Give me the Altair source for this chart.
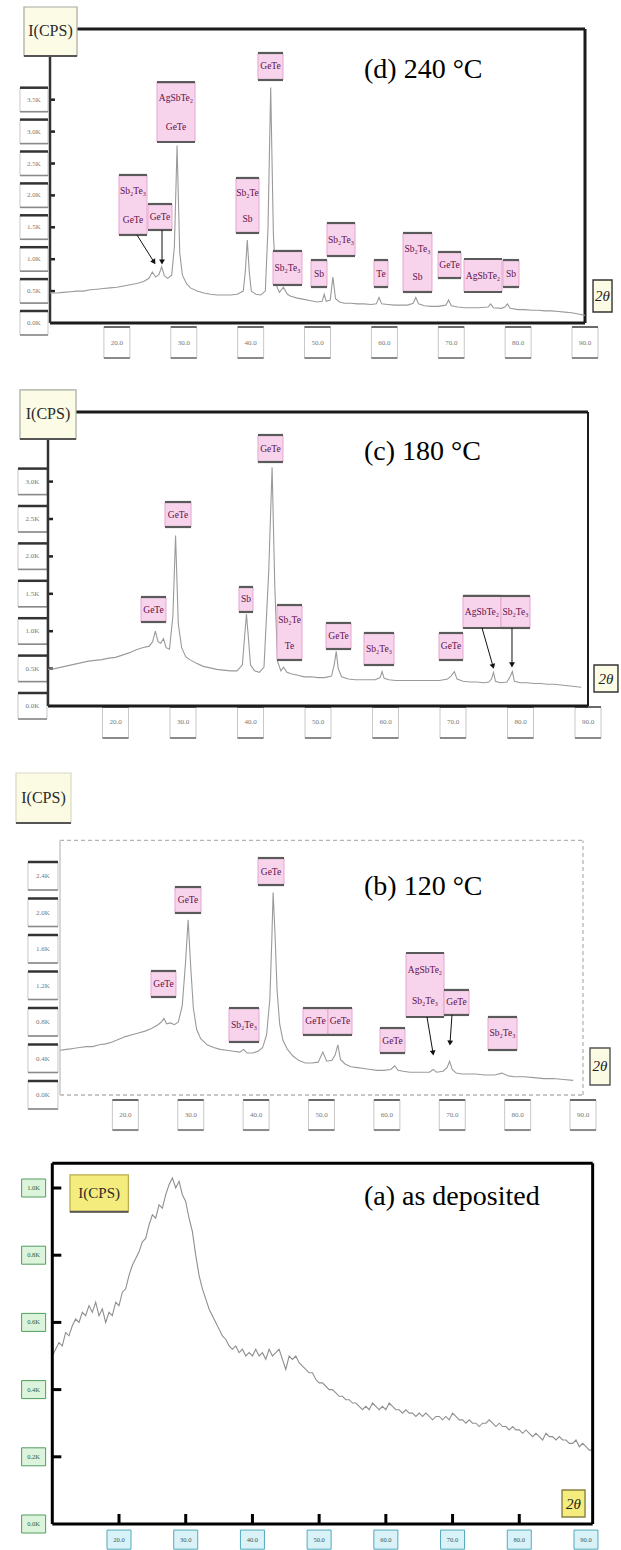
import math
import altair as alt
import pandas as pd

W = 621
SERIF = "Liberation Serif"

# ---------------- diffraction data: 2-theta (deg) and intensity (kCPS) ----------------
# (d) annealed at 240 °C
D_TT = [10, 11, 12, 13, 14, 15, 16, 17, 18, 19, 20, 21, 22, 23, 24, 24.8, 25.3, 25.8, 26.3, 26.7,
        27.1, 27.6, 28.2, 28.6, 29.0, 29.4, 29.8, 30.4, 31, 32, 33, 34, 35, 36, 37, 38, 38.9, 39.2,
        39.5, 39.8, 40.1, 40.8, 41.5, 42.2, 42.6, 43.0, 43.4, 43.8, 44.3, 44.9, 45.5, 46, 47, 48,
        49, 50, 50.7, 51.0, 51.3, 51.9, 52.3, 52.7, 53.3, 54, 55, 56, 57, 58, 58.8, 59.2, 59.6,
        60.5, 61.5, 62.5, 63.5, 64.3, 64.7, 65.1, 66, 67, 68, 69.2, 69.6, 70.0, 71, 72, 73, 74,
        75.5, 75.9, 76.3, 77.5, 78.0, 78.4, 78.8, 80, 81, 82, 83, 84, 85, 86, 87, 88, 89, 90]
D_I = [0.47, 0.47, 0.48, 0.49, 0.50, 0.50, 0.52, 0.53, 0.54, 0.55, 0.56, 0.58, 0.60, 0.62, 0.65,
       0.70, 0.80, 0.72, 0.76, 0.88, 0.74, 0.70, 0.75, 1.20, 2.78, 1.10, 0.75, 0.62, 0.55, 0.50,
       0.47, 0.45, 0.44, 0.44, 0.44, 0.45, 0.50, 0.80, 1.30, 0.80, 0.50, 0.45, 0.44, 0.50, 1.50,
       3.69, 1.40, 0.60, 0.48, 0.56, 0.45, 0.42, 0.39, 0.37, 0.35, 0.33, 0.34, 0.45, 0.34, 0.36,
       0.72, 0.38, 0.33, 0.31, 0.31, 0.30, 0.30, 0.29, 0.30, 0.40, 0.30, 0.29, 0.28, 0.28, 0.28,
       0.31, 0.40, 0.30, 0.27, 0.26, 0.26, 0.28, 0.36, 0.27, 0.25, 0.24, 0.24, 0.24, 0.25, 0.30,
       0.24, 0.23, 0.25, 0.30, 0.23, 0.21, 0.21, 0.20, 0.20, 0.19, 0.19, 0.18, 0.17, 0.16, 0.14,
       0.12]

# (c) annealed at 180 °C
C_TT = [10, 11, 12, 13, 14, 15, 16, 17, 18, 19, 20, 21, 22, 23, 24, 25, 25.5, 25.9, 26.3, 26.7,
        27.1, 27.5, 28.0, 28.5, 28.9, 29.3, 29.8, 30.4, 31, 32, 33, 34, 35, 36, 37, 38, 38.8, 39.1,
        39.4, 39.7, 40.0, 40.6, 41.3, 42.0, 42.7, 43.2, 43.6, 44.0, 44.5, 44.9, 45.4, 46, 47, 48,
        49, 50, 51, 52, 52.4, 52.7, 53.0, 53.5, 54.5, 55.5, 56.5, 57.5, 58.5, 59.2, 59.5, 59.8,
        60.5, 61.5, 62.5, 63.5, 65, 66.5, 68, 69.2, 69.7, 70.2, 70.6, 71.5, 72.5, 73.5, 74.5, 75.3,
        75.7, 76.0, 76.3, 77.0, 78.0, 78.5, 78.8, 79.1, 80, 81, 82, 83, 84, 85, 86, 87, 88, 89]
C_I = [0.49, 0.50, 0.52, 0.54, 0.56, 0.58, 0.60, 0.61, 0.62, 0.64, 0.65, 0.68, 0.71, 0.75, 0.78,
       0.80, 0.86, 1.00, 0.86, 0.84, 0.90, 0.78, 0.76, 1.20, 2.28, 1.10, 0.78, 0.66, 0.62, 0.57,
       0.53, 0.51, 0.49, 0.48, 0.47, 0.47, 0.55, 0.90, 1.23, 0.90, 0.55, 0.47, 0.45, 0.52, 1.80,
       3.19, 1.60, 0.60, 0.47, 0.52, 0.45, 0.43, 0.41, 0.39, 0.39, 0.38, 0.38, 0.40, 0.55, 0.73,
       0.50, 0.39, 0.36, 0.35, 0.35, 0.35, 0.35, 0.38, 0.46, 0.37, 0.35, 0.34, 0.34, 0.34, 0.34,
       0.34, 0.34, 0.36, 0.40, 0.46, 0.36, 0.33, 0.32, 0.32, 0.31, 0.32, 0.36, 0.45, 0.33, 0.31,
       0.32, 0.40, 0.46, 0.33, 0.31, 0.31, 0.30, 0.30, 0.29, 0.29, 0.28, 0.27, 0.26, 0.25]

# (b) annealed at 120 °C
B_TT = [10, 11, 12, 13, 14, 15, 16, 17, 18, 19, 20, 21, 22, 23, 24, 25, 25.5, 25.9, 26.3, 26.9,
        27.5, 28.1, 28.7, 29.2, 29.6, 30.0, 30.4, 30.9, 31.5, 32.5, 33.5, 34.5, 35.5, 36.5, 37.5,
        38.1, 38.6, 39.5, 40.3, 41.0, 41.6, 42.1, 42.4, 42.6, 42.9, 43.2, 43.6, 44.1, 44.8, 45.6,
        46.5, 47.5, 48.5, 49.5, 50.2, 50.8, 51.6, 52.1, 52.5, 52.9, 53.6, 54.5, 55.5, 56.5, 57.5,
        58.5, 59.5, 60.6, 61.2, 61.7, 62.5, 63.5, 64.5, 65.5, 66.5, 67.1, 67.6, 68.6, 69.2, 69.6,
        70.0, 70.6, 71.5, 72.5, 73.5, 75.0, 76.5, 77.6, 78.5, 79.5, 81.0, 82.5, 84.0, 85.5, 87.0,
        88.5]
B_I = [0.49, 0.50, 0.51, 0.52, 0.53, 0.53, 0.55, 0.56, 0.58, 0.61, 0.64, 0.66, 0.68, 0.70, 0.73,
       0.77, 0.80, 0.84, 0.78, 0.79, 0.77, 0.80, 0.98, 1.45, 1.92, 1.40, 0.95, 0.72, 0.62, 0.55,
       0.52, 0.50, 0.49, 0.48, 0.47, 0.50, 0.46, 0.46, 0.48, 0.52, 0.66, 1.05, 1.70, 2.22, 1.75,
       1.15, 0.78, 0.60, 0.50, 0.43, 0.38, 0.35, 0.35, 0.36, 0.47, 0.37, 0.38, 0.44, 0.55, 0.39,
       0.34, 0.31, 0.30, 0.29, 0.28, 0.27, 0.27, 0.28, 0.32, 0.27, 0.26, 0.25, 0.25, 0.25, 0.25,
       0.28, 0.25, 0.26, 0.30, 0.37, 0.28, 0.24, 0.23, 0.23, 0.23, 0.22, 0.22, 0.24, 0.21, 0.20,
       0.20, 0.19, 0.18, 0.18, 0.17, 0.16]

# (a) as deposited (amorphous)
A_TT = [10.0, 10.5, 11.0, 11.5, 12.0, 12.5, 13.0, 13.5, 14.0, 14.5, 15.0, 15.5, 16.0, 16.5, 17.0,
        17.5, 18.0, 18.5, 19.0, 19.5, 20.0, 20.5, 21.0, 21.5, 22.0, 22.5, 23.0, 23.5, 24.0, 24.5,
        25.0, 25.5, 26.0, 26.5, 27.0, 27.5, 28.0, 28.5, 29.0, 29.5, 30.0, 30.5, 31.0, 31.5, 32.0,
        32.5, 33.0, 33.5, 34.0, 34.5, 35.0, 35.5, 36.0, 36.5, 37.0, 37.5, 38.0, 38.5, 39.0, 39.5,
        40.0, 40.5, 41.0, 41.5, 42.0, 42.5, 43.0, 43.5, 44.0, 44.5, 45.0, 45.5, 46.0, 46.5, 47.0,
        47.5, 48.0, 48.5, 49.0, 49.5, 50.0, 50.5, 51.0, 51.5, 52.0, 52.5, 53.0, 53.5, 54.0, 54.5,
        55.0, 55.5, 56.0, 56.5, 57.0, 57.5, 58.0, 58.5, 59.0, 59.5, 60.0, 60.5, 61.0, 61.5, 62.0,
        62.5, 63.0, 63.5, 64.0, 64.5, 65.0, 65.5, 66.0, 66.5, 67.0, 67.5, 68.0, 68.5, 69.0, 69.5,
        70.0, 70.5, 71.0, 71.5, 72.0, 72.5, 73.0, 73.5, 74.0, 74.5, 75.0, 75.5, 76.0, 76.5, 77.0,
        77.5, 78.0, 78.5, 79.0, 79.5, 80.0, 80.5, 81.0, 81.5, 82.0, 82.5, 83.0, 83.5, 84.0, 84.5,
        85.0, 85.5, 86.0, 86.5, 87.0, 87.5, 88.0, 88.5, 89.0, 89.5, 90.0, 90.5, 91.0]
A_I = [0.50, 0.52, 0.54, 0.53, 0.57, 0.56, 0.59, 0.61, 0.60, 0.63, 0.62, 0.65, 0.63, 0.66, 0.62,
       0.64, 0.60, 0.63, 0.62, 0.66, 0.65, 0.69, 0.70, 0.74, 0.77, 0.79, 0.81, 0.84, 0.85, 0.89,
       0.92, 0.91, 0.95, 0.94, 0.98, 1.01, 1.03, 1.00, 1.02, 0.98, 0.96, 0.91, 0.87, 0.80, 0.74,
       0.70, 0.67, 0.64, 0.62, 0.60, 0.58, 0.56, 0.55, 0.53, 0.52, 0.53, 0.51, 0.52, 0.50, 0.51,
       0.50, 0.52, 0.50, 0.51, 0.49, 0.52, 0.50, 0.51, 0.52, 0.49, 0.46, 0.50, 0.49, 0.50, 0.48,
       0.47, 0.46, 0.45, 0.45, 0.43, 0.42, 0.42, 0.41, 0.40, 0.40, 0.39, 0.38, 0.38, 0.37, 0.37,
       0.36, 0.36, 0.35, 0.34, 0.35, 0.34, 0.36, 0.35, 0.34, 0.35, 0.34, 0.36, 0.35, 0.34, 0.34,
       0.33, 0.34, 0.33, 0.33, 0.32, 0.33, 0.32, 0.33, 0.32, 0.31, 0.32, 0.32, 0.31, 0.32, 0.31,
       0.33, 0.32, 0.31, 0.31, 0.30, 0.31, 0.30, 0.30, 0.29, 0.30, 0.30, 0.31, 0.30, 0.29, 0.30,
       0.29, 0.29, 0.28, 0.29, 0.28, 0.28, 0.27, 0.28, 0.27, 0.26, 0.27, 0.26, 0.25, 0.27, 0.26,
       0.26, 0.25, 0.26, 0.25, 0.25, 0.24, 0.24, 0.25, 0.23, 0.24, 0.23, 0.22, 0.22]

# ---------------- phase labels: (lines, 2θ from, 2θ to, bottom kCPS, top kCPS) ----------------
D_LABELS = [
    (["Sb₂Te₃", "GeTe"], 20.32, 24.50, 1.38, 2.32),
    (["GeTe"], 24.65, 28.24, 1.458, 1.865),
    (["AgSbTe₂", "GeTe"], 26.0, 31.68, 2.837, 3.777),
    (["Sb₂Te", "Sb"], 37.81, 41.25, 1.411, 2.273),
    (["GeTe"], 41.10, 44.84, 3.809, 4.232),
    (["Sb₂Te₃"], 43.35, 47.68, 0.596, 1.129),
    (["Sb"], 49.03, 51.42, 0.564, 0.987),
    (["Sb₂Te₃"], 51.42, 55.61, 1.050, 1.567),
    (["Te"], 58.45, 60.54, 0.564, 0.987),
    (["Sb₂Te₃", "Sb"], 62.79, 67.12, 0.486, 1.411),
    (["GeTe"], 68.02, 71.46, 0.705, 1.113),
    (["AgSbTe₂"], 71.91, 77.59, 0.486, 1.003),
    (["Sb"], 77.74, 80.13, 0.564, 0.987),
]
D_ARROWS = [(23.0, 1.38, 25.55, 0.956), (26.75, 1.458, 26.75, 0.956)]

C_LABELS = [
    (["GeTe"], 23.78, 27.48, 1.123, 1.457),
    (["GeTe"], 27.33, 31.19, 2.393, 2.727),
    (["Sb"], 38.30, 40.37, 1.257, 1.591),
    (["GeTe"], 41.11, 44.81, 3.262, 3.623),
    (["Sb₂Te", "Te"], 43.93, 47.63, 0.615, 1.350),
    (["GeTe"], 51.19, 54.89, 0.762, 1.110),
    (["Sb₂Te₃"], 56.81, 61.26, 0.548, 0.976),
    (["GeTe"], 67.93, 71.48, 0.615, 0.976),
    (["AgSbTe₂"], 71.48, 77.11, 1.043, 1.471),
    (["Sb₂Te₃"], 77.11, 81.41, 1.043, 1.471),
]
C_ARROWS = [(74.30, 1.043, 75.93, 0.53), (78.74, 1.043, 78.74, 0.55)]

B_LABELS = [
    (["GeTe"], 23.92, 27.74, 1.074, 1.359),
    (["GeTe"], 27.59, 31.57, 1.995, 2.279),
    (["Sb₂Te₃"], 35.85, 40.44, 0.581, 0.953),
    (["GeTe"], 40.29, 44.26, 2.301, 2.597),
    (["GeTe"], 47.17, 50.99, 0.658, 0.953),
    (["GeTe"], 50.99, 54.67, 0.658, 0.953),
    (["GeTe"], 58.95, 62.77, 0.460, 0.734),
    (["AgSbTe₂", "Sb₂Te₃"], 62.93, 68.74, 0.855, 1.556),
    (["GeTe"], 68.74, 72.56, 0.877, 1.151),
    (["Sb₂Te₃"], 75.47, 79.91, 0.493, 0.855),
]
B_ARROWS = [(66.14, 0.855, 67.06, 0.46), (69.96, 0.877, 69.66, 0.57)]

X_TICKS = [20, 30, 40, 50, 60, 70, 80, 90]
D_YTICKS = [0.0, 0.5, 1.0, 1.5, 2.0, 2.5, 3.0, 3.5]
C_YTICKS = [0.0, 0.5, 1.0, 1.5, 2.0, 2.5, 3.0]
B_YTICKS = [0.0, 0.4, 0.8, 1.2, 1.6, 2.0, 2.4]
A_YTICKS = [0.0, 0.2, 0.4, 0.6, 0.8, 1.0]

# panel geometry: height, pixel of 2θ=10, px per degree, pixel of zero, px per kCPS
GEOM = {
    "d": dict(H=365, x0=50.0, sx=6.6875, y0=323.0, sy=63.8),
    "c": dict(H=375, x0=48.0, sx=6.75, y0=341.0, sy=74.8),
    "b": dict(H=390, x0=60.0, sx=6.5375, y0=355.0, sy=91.25),
    "a": dict(H=420, x0=52.3, sx=6.671, y0=394.0, sy=336.0),
}


class Panel:
    def __init__(self, g):
        self.g = g
        xdom = [10 - g["x0"] / g["sx"], 10 + (W - g["x0"]) / g["sx"]]
        ydom = [(g["y0"] - g["H"]) / g["sy"], g["y0"] / g["sy"]]
        self.xs = alt.Scale(domain=xdom, nice=False, zero=False)
        self.ys = alt.Scale(domain=ydom, nice=False, zero=False)
        self.layers = []

    def dx(self, px):
        return px / self.g["sx"]

    def dy(self, px):
        return px / self.g["sy"]

    def _xy(self):
        return dict(x=alt.X("x:Q", scale=self.xs, axis=None),
                    y=alt.Y("y:Q", scale=self.ys, axis=None))

    def line(self, tt, cps, **mk):
        df = pd.DataFrame({"x": tt, "y": cps})
        self.layers.append(alt.Chart(df).mark_line(**mk).encode(**self._xy()))

    def rules(self, rows, **mk):
        if not rows:
            return
        df = pd.DataFrame(rows, columns=["x", "x2", "y", "y2"])
        self.layers.append(alt.Chart(df).mark_rule(**mk).encode(
            x2="x2:Q", y2="y2:Q", **self._xy()))

    def rects(self, rows, **mk):
        if not rows:
            return
        df = pd.DataFrame(rows, columns=["x", "x2", "y", "y2"])
        self.layers.append(alt.Chart(df).mark_rect(**mk).encode(
            x2="x2:Q", y2="y2:Q", **self._xy()))

    def texts(self, rows, **mk):
        if not rows:
            return
        df = pd.DataFrame(rows, columns=["x", "y", "t"])
        self.layers.append(alt.Chart(df).mark_text(**mk).encode(
            text="t:N", **self._xy()))

    def heads(self, rows, **mk):
        df = pd.DataFrame(rows, columns=["x", "y", "ang"])
        self.layers.append(alt.Chart(df).mark_point(**mk).encode(
            angle=alt.Angle("ang:Q", scale=None), **self._xy()))

    # boxed phase labels with dark bars on top and bottom
    def phase_labels(self, labels, fontsize=9.5):
        boxes, bars, txt = [], [], []
        for lines, x1, x2, yb, yt in labels:
            boxes.append((x1, x2, yb, yt))
            bars.append((x1, x2, yt, yt))
            bars.append((x1, x2, yb, yb))
            xc = (x1 + x2) / 2
            if len(lines) == 1:
                txt.append((xc, (yb + yt) / 2, lines[0]))
            else:
                txt.append((xc, yt - 0.27 * (yt - yb), lines[0]))
                txt.append((xc, yb + 0.25 * (yt - yb), lines[1]))
        self.rects(boxes, fill="#f8d4ec", stroke="#e5a6d0", strokeWidth=1)
        self.rules(bars, color="#5a5a5a", strokeWidth=2.2)
        self.texts(txt, font=SERIF, fontSize=fontsize, color="#5e1049",
                   align="center", baseline="middle")

    def arrows(self, arrows):
        self.rules([(a, c, b, d) for a, b, c, d in arrows], color="#111", strokeWidth=1)
        heads = []
        for x1, y1, x2, y2 in arrows:
            dxp = (x2 - x1) * self.g["sx"]
            dyp = -(y2 - y1) * self.g["sy"]
            ang = math.degrees(math.atan2(-dxp, dyp)) % 360
            heads.append((x2, y2, ang))
        self.heads(heads, shape="triangle-down", filled=True, color="#111", size=34, opacity=1)

    def chart(self):
        return alt.layer(*self.layers).properties(width=W, height=self.g["H"])


def tick_label_boxes(p, yticks, xticks, fmt_y, yl, xl, style):
    # y labels: column of small boxes left of the axis
    (bx1, bx2), bh = yl
    boxes = [(bx1, bx2, v - p.dy(bh / 2), v + p.dy(bh / 2)) for v in yticks]
    p.rects(boxes, fill=style["fill"], stroke=style["stroke"], strokeWidth=1)
    if style.get("bars"):
        p.rules([(a, b, d, d) for a, b, c, d in boxes], color="#333", strokeWidth=2.5)
        p.rules([(a, b, c, c) for a, b, c, d in boxes], color="#8a8a8a", strokeWidth=1.6)
    p.texts([((bx1 + bx2) / 2, v, fmt_y.format(v)) for v in yticks], font=SERIF,
            fontSize=style["fs"], color=style["tc"], align="center", baseline="middle")
    # x labels: row of small boxes under the axis
    bw, (by1, by2) = xl
    xb = [(t - p.dx(bw / 2), t + p.dx(bw / 2), by1, by2) for t in xticks]
    p.rects(xb, fill=style["fill"], stroke=style["stroke"], strokeWidth=1)
    if style.get("bars"):
        p.rules([(a, b, d, d) for a, b, c, d in xb], color="#8a8a8a", strokeWidth=2)
        p.rules([(a, b, c, c) for a, b, c, d in xb], color="#6a6a6a", strokeWidth=2)
    p.texts([(t, (by1 + by2) / 2, f"{t:.1f}") for t in xticks], font=SERIF,
            fontSize=style["fs"], color=style["tc"], align="center", baseline="middle")


def cps_box(p, x1, x2, yb, yt, fill, stroke, fs=16):
    p.rects([(x1, x2, yb, yt)], fill=fill, stroke=stroke, strokeWidth=1.2)
    p.rules([(x1, x2, yb, yb)], color="#555", strokeWidth=2)
    p.texts([((x1 + x2) / 2, (yb + yt) / 2, "I(CPS)")], font=SERIF, fontSize=fs,
            color="#2a2a2a", align="center", baseline="middle")


def theta_box(p, x1, x2, yb, yt, fill, stroke):
    p.rects([(x1, x2, yb, yt)], fill=fill, stroke=stroke, strokeWidth=1.4)
    p.texts([((x1 + x2) / 2, (yb + yt) / 2, "2θ")], font=SERIF, fontSize=15,
            fontStyle="italic", color="#222", align="center", baseline="middle")


def title(p, x, y, text):
    p.texts([(x, y, text)], font=SERIF, fontSize=28, color="#000",
            align="left", baseline="middle")


GRAY_BOX = dict(fill="#ffffff", stroke="#c8c8c8", tc="#777", fs=7, bars=True)
LINE_GRAY = "#9a9a9a"

# ---------------- (d) 240 °C ----------------
pd_ = Panel(GEOM["d"])
tick_label_boxes(pd_, D_YTICKS, X_TICKS, "{:.1f}K", ((5.51, 9.70), 24), (26, (-0.063, -0.549)), GRAY_BOX)
pd_.rules([(10, 10 + pd_.dx(5), v, v) for v in D_YTICKS[1:]], color="#222", strokeWidth=2.5)
pd_.rules([(14.04, 90, 4.61, 4.61), (90, 90, 0, 4.61), (10, 90, 0, 0)], color="#1b1b1b", strokeWidth=3)
pd_.rules([(10, 10, 0, 4.185)], color="#333", strokeWidth=2.5)
pd_.line(D_TT, D_I, color=LINE_GRAY, strokeWidth=1.1)
pd_.phase_labels(D_LABELS)
pd_.arrows(D_ARROWS)
cps_box(pd_, 6.11, 14.04, 4.185, 4.953, "#fbfbe6", "#a8a8a0")
theta_box(pd_, 91.2, 94.04, 0.172, 0.674, "#fbfbe6", "#333")
title(pd_, 56.95, 3.965, "(d) 240 °C")

# ---------------- (c) 180 °C ----------------
pc = Panel(GEOM["c"])
tick_label_boxes(pc, C_YTICKS, X_TICKS, "{:.1f}K", ((5.56, 9.85), 26), (26, (-0.013, -0.428)), GRAY_BOX)
pc.rules([(10, 10 + pc.dx(5), v, v) for v in C_YTICKS[1:]], color="#222", strokeWidth=2.5)
pc.rules([(14.15, 90, 3.93, 3.93), (10, 90, 0, 0)], color="#1b1b1b", strokeWidth=3)
pc.rules([(90, 90, 0, 3.93)], color="#1b1b1b", strokeWidth=2)
pc.rules([(10, 10, 0, 3.57)], color="#333", strokeWidth=2.5)
pc.line(C_TT, C_I, color=LINE_GRAY, strokeWidth=1.1)
pc.phase_labels(C_LABELS)
pc.arrows(C_ARROWS)
cps_box(pc, 5.85, 14.15, 3.57, 4.225, "#fbfbe6", "#a8a8a0")
theta_box(pc, 90.89, 94.44, 0.187, 0.548, "#fbfbe6", "#333")
title(pc, 56.81, 3.396, "(c) 180 °C")

# ---------------- (b) 120 °C ----------------
pb = Panel(GEOM["b"])
tick_label_boxes(pb, B_YTICKS, X_TICKS, "{:.1f}K", ((5.1, 9.69), 28), (26, (-0.055, -0.384)), GRAY_BOX)
pb.rules([(10, 90, 2.79, 2.79), (90, 90, 0, 2.79), (10, 90, 0, 0)],
         color="#b5b5b5", strokeWidth=1.3, strokeDash=[4, 3])
pb.rules([(10, 10, 0, 2.79)], color="#bdbdbd", strokeWidth=1.2)
pb.line(B_TT, B_I, color=LINE_GRAY, strokeWidth=1.1)
pb.phase_labels(B_LABELS)
pb.arrows(B_ARROWS)
cps_box(pb, 3.27, 11.68, 2.981, 3.529, "#fbfbe3", "#d8d8c8")
theta_box(pb, 91.07, 94.13, 0.11, 0.515, "#fbfbe3", "#555")
title(pb, 56.5, 2.28, "(b) 120 °C")

# ---------------- (a) as deposited ----------------
pa = Panel(GEOM["a"])
GREEN = dict(fill="#dcf3dc", stroke="#4f9f5a", tc="#2f5f35", fs=6.5)
CYAN = dict(fill="#d9f2f7", stroke="#52a9bd", tc="#2f5a66", fs=6.5)
tick_label_boxes(pa, A_YTICKS, [], "{:.1f}K", ((5.4, 9.0), 18), (24, (-0.018, -0.075)), GREEN)
tick_label_boxes(pa, [], X_TICKS, "{:.1f}K", ((5.4, 9.0), 18), (24, (-0.018, -0.075)), CYAN)
pa.rules([(10, 10 + pa.dx(9), v, v) for v in A_YTICKS[1:]], color="#000", strokeWidth=3)
pa.rules([(t, t, 0, pa.dy(10)) for t in X_TICKS[:-1]], color="#000", strokeWidth=3)
pa.line(A_TT, A_I, color="#8f8f8f", strokeWidth=1.1)
pa.rules([(10, 91, 1.074, 1.074), (10, 91, 0, 0), (10, 10, 0, 1.074), (91, 91, 0, 1.074)],
         color="#000", strokeWidth=3)
cps_box(pa, 12.65, 21.4, 0.929, 1.039, "#f4ec7c", "#b7a94a", fs=15)
theta_box(pa, 86.41, 89.86, 0.021, 0.101, "#f4ec7c", "#8b8040")
title(pa, 56.72, 0.973, "(a) as deposited")

chart = alt.vconcat(pd_.chart(), pc.chart(), pb.chart(), pa.chart(), spacing=0, bounds="flush") \
    .properties(padding=0, background="#ffffff") \
    .configure_view(stroke=None)

chart.save("out.html", embed_options={"renderer": "svg", "actions": False})
